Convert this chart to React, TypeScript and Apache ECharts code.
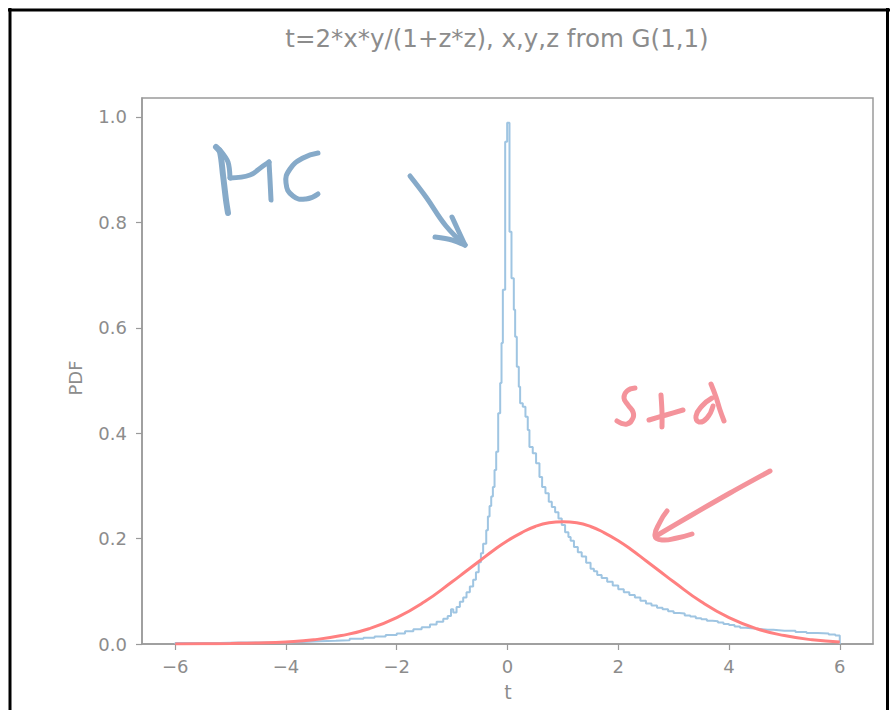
import React, { useEffect, useRef } from "react";
import * as echarts from "echarts";

const titleText = "t=2*x*y/(1+z*z), x,y,z from G(1,1)";
const xTicks = [-6, -4, -2, 0, 2, 4, 6];
const yTicks = [0, 0.2, 0.4, 0.6, 0.8, 1.0];

// Monte Carlo histogram (step): left bin edges and bin heights
const histEdges = [
  -6.0, -5.6, -5.2, -4.8, -4.4, -4.0, -3.7, -3.4, -3.1, -2.85, -2.6, -2.4, -2.2, -2.0,
  -1.85, -1.7, -1.55, -1.4, -1.28, -1.16, -1.08, -1.02, -0.98, -0.92, -0.86, -0.8,
  -0.74, -0.68, -0.62, -0.57, -0.52, -0.48, -0.44, -0.384, -0.354, -0.324, -0.294,
  -0.264, -0.234, -0.204, -0.168, -0.132, -0.108, -0.084, -0.042, -0.006, 0.036,
  0.072, 0.114, 0.138, 0.168, 0.204, 0.228, 0.276, 0.324, 0.366, 0.396, 0.456,
  0.516, 0.577, 0.625, 0.685, 0.745, 0.8, 0.86, 0.92, 0.98, 1.04, 1.1, 1.14, 1.2,
  1.27, 1.34, 1.42, 1.5, 1.56, 1.62, 1.7, 1.8, 1.9, 2.0, 2.1, 2.2, 2.3, 2.4, 2.5,
  2.6, 2.7, 2.8, 2.9, 3.0, 3.1, 3.2, 3.3, 3.4, 3.5, 3.6, 3.7, 3.8, 3.9, 4.0, 4.1,
  4.2, 4.3, 4.4, 4.5, 4.6, 4.7, 4.8, 4.9, 5.0, 5.2, 5.4, 5.6, 5.8, 5.92, 6.0,
];
const histValues = [
  0.002, 0.002, 0.003, 0.003, 0.003, 0.004, 0.005, 0.006, 0.007, 0.01, 0.012, 0.014, 0.017, 0.02,
  0.024, 0.028, 0.032, 0.037, 0.042, 0.048, 0.053, 0.066, 0.06, 0.07, 0.08, 0.088,
  0.098, 0.109, 0.122, 0.136, 0.155, 0.172, 0.19, 0.216, 0.242, 0.262, 0.28,
  0.298, 0.33, 0.365, 0.438, 0.495, 0.571, 0.672, 0.953, 0.989, 0.782,
  0.694, 0.634, 0.583, 0.526, 0.488, 0.457, 0.45, 0.431, 0.406, 0.374, 0.362,
  0.343, 0.317, 0.298, 0.286, 0.27, 0.26, 0.25, 0.238, 0.226, 0.212, 0.203, 0.196, 0.184,
  0.174, 0.166, 0.154, 0.143, 0.138, 0.131, 0.125, 0.118, 0.111, 0.104, 0.098, 0.093, 0.088, 0.082, 0.077,
  0.073, 0.069, 0.066, 0.062, 0.059, 0.058, 0.054, 0.052, 0.049, 0.047, 0.044, 0.043, 0.041, 0.038, 0.036, 0.033,
  0.031, 0.03, 0.029, 0.028, 0.027, 0.027, 0.026, 0.025, 0.025, 0.023, 0.021, 0.02, 0.018, 0.016, 0.0,
];

// "Std" normal curve
const stdT = [
  -6, -5.5, -5, -4.5, -4, -3.5, -3, -2.5, -2, -1.5, -1, -0.75, -0.5, -0.25, 0, 0.25, 0.5,
  0.75, 1, 1.25, 1.5, 1.75, 2, 2.25, 2.5, 2.75, 3, 3.5, 4, 4.5, 5, 5.5, 6,
];
const stdPdf = [
  0.0, 0.0005, 0.001, 0.002, 0.004, 0.008, 0.016, 0.029, 0.05, 0.08, 0.118, 0.138, 0.158,
  0.178, 0.196, 0.211, 0.223, 0.23, 0.232, 0.23, 0.223, 0.211, 0.196, 0.178, 0.158, 0.138,
  0.118, 0.08, 0.05, 0.029, 0.016, 0.008, 0.004,
];

const GRAY = "#8c8c8c";
const BLUE_INK = "#86aac9";
const PINK_INK = "#f4939b";

function stroke(points: number[][], color: string, width: number, smooth = 0.35) {
  return {
    type: "polyline",
    silent: true,
    z: 100,
    shape: { points, smooth },
    style: { stroke: color, lineWidth: width, fill: null, lineCap: "round", lineJoin: "round" },
  };
}

export default function App() {
  const ref = useRef<HTMLDivElement>(null);
  useEffect(() => {
    if (!ref.current) return;
    const chart = echarts.init(ref.current, null, { renderer: "svg" });
    const histData: number[][] = [[-6, 0]];
    histEdges.forEach((e, i) => histData.push([e, histValues[i]]));
    const stdData = stdT.map((t, i) => [t, stdPdf[i]]);
    const fmtX = (v: number) => (v < 0 ? "\u2212" + Math.abs(v) : String(v));

    chart.setOption({
      animation: false,
      backgroundColor: "#ffffff",
      textStyle: { fontFamily: "DejaVu Sans" },
      grid: {
        left: 142,
        top: 98,
        right: 17,
        bottom: 66,
        show: true,
        borderColor: "#9a9a9a",
        borderWidth: 1.5,
      },
      xAxis: {
        type: "value",
        min: -6.6,
        max: 6.6,
        axisLine: { show: true, onZero: false, lineStyle: { color: "#9a9a9a", width: 1.5 } },
        axisTick: {
          show: true,
          length: 6,
          inside: false,
          customValues: xTicks,
          lineStyle: { color: "#9a9a9a", width: 1.2 },
        },
        axisLabel: {
          customValues: xTicks,
          formatter: fmtX,
          color: GRAY,
          fontSize: 18,
          fontFamily: "DejaVu Sans",
          margin: 13,
        },
        splitLine: { show: false },
      },
      yAxis: {
        type: "value",
        min: 0,
        max: 1.036,
        axisLine: { show: true, onZero: false, lineStyle: { color: "#9a9a9a", width: 1.5 } },
        axisTick: {
          show: true,
          length: 6,
          inside: false,
          customValues: yTicks,
          lineStyle: { color: "#9a9a9a", width: 1.2 },
        },
        axisLabel: {
          customValues: yTicks,
          formatter: (v: number) => v.toFixed(1),
          color: GRAY,
          fontSize: 18,
          fontFamily: "DejaVu Sans",
          margin: 15,
        },
        splitLine: { show: false },
      },
      series: [
        {
          name: "MC",
          type: "line",
          data: histData,
          step: "end",
          symbol: "none",
          lineStyle: { color: "#9fc5e2", width: 2 },
          z: 2,
        },
        {
          name: "Std",
          type: "line",
          data: stdData,
          smooth: 0.5,
          symbol: "none",
          lineStyle: { color: "#ff8080", width: 3 },
          z: 3,
        },
      ],
      graphic: [
        // screenshot frame
        { type: "line", silent: true, shape: { x1: 8, y1: 10, x2: 890, y2: 10 }, style: { stroke: "#000", lineWidth: 3 } },
        { type: "line", silent: true, shape: { x1: 10, y1: 8, x2: 10, y2: 710 }, style: { stroke: "#000", lineWidth: 3 } },
        { type: "line", silent: true, shape: { x1: 887.5, y1: 8, x2: 887.5, y2: 710 }, style: { stroke: "#000", lineWidth: 3 } },
        {
          type: "text",
          silent: true,
          x: 497,
          y: 38,
          style: {
            text: titleText,
            fill: GRAY,
            fontSize: 24.5,
            fontFamily: "DejaVu Sans",
            align: "center",
            verticalAlign: "middle",
          },
        },
        {
          type: "text",
          silent: true,
          x: 508,
          y: 692,
          style: { text: "t", fill: GRAY, fontSize: 19, fontFamily: "DejaVu Sans", align: "center", verticalAlign: "middle" },
        },
        {
          type: "text",
          silent: true,
          x: 75,
          y: 378,
          rotation: Math.PI / 2,
          style: { text: "PDF", fill: GRAY, fontSize: 18, fontFamily: "DejaVu Sans", align: "center", verticalAlign: "middle" },
        },
        // hand-written "MC" with arrow
        stroke([[216, 147], [220, 152], [223, 175], [226, 200], [228, 213]], BLUE_INK, 6, 0.3),
        stroke([[220, 150], [228, 162], [230, 178]], BLUE_INK, 5, 0.3),
        stroke([[230, 178], [250, 175], [263, 166], [269, 162]], BLUE_INK, 5, 0.4),
        stroke([[269, 162], [270, 180], [271, 200]], BLUE_INK, 5, 0.3),
        stroke([[318, 153], [303, 158], [290, 169], [286, 183], [293, 196], [306, 199], [318, 194]], BLUE_INK, 5, 0.5),
        stroke([[410, 176], [426, 197], [446, 226], [465, 245]], BLUE_INK, 5, 0.4),
        stroke([[435, 237], [452, 240], [465, 245]], BLUE_INK, 5, 0.3),
        stroke([[452, 217], [458, 230], [465, 245]], BLUE_INK, 5, 0.3),
        // hand-written "Std" with arrow
        stroke([[635, 388], [627, 391], [624, 398], [628, 405], [633, 412], [633, 418], [627, 424], [617, 421]], PINK_INK, 5, 0.5),
        stroke([[661, 395], [662, 412], [662, 427]], PINK_INK, 5, 0.3),
        stroke([[649, 420], [666, 415], [683, 410]], PINK_INK, 5, 0.3),
        stroke([[711, 384], [716, 397], [720, 410], [724, 421]], PINK_INK, 5, 0.4),
        stroke([[712, 398], [702, 406], [696, 416], [699, 422], [707, 418], [713, 406]], PINK_INK, 5, 0.5),
        stroke([[770, 471], [730, 493], [690, 516], [656, 536]], PINK_INK, 5, 0.3),
        stroke([[667, 511], [660, 522], [655, 536], [662, 540], [677, 538], [692, 534]], PINK_INK, 5, 0.5),
      ],
    });
    return () => chart.dispose();
  }, []);
  return (
    <div
      ref={ref}
      style={{ position: "fixed", left: 0, top: 0, width: 890, height: 710, background: "#fff" }}
    />
  );
}
